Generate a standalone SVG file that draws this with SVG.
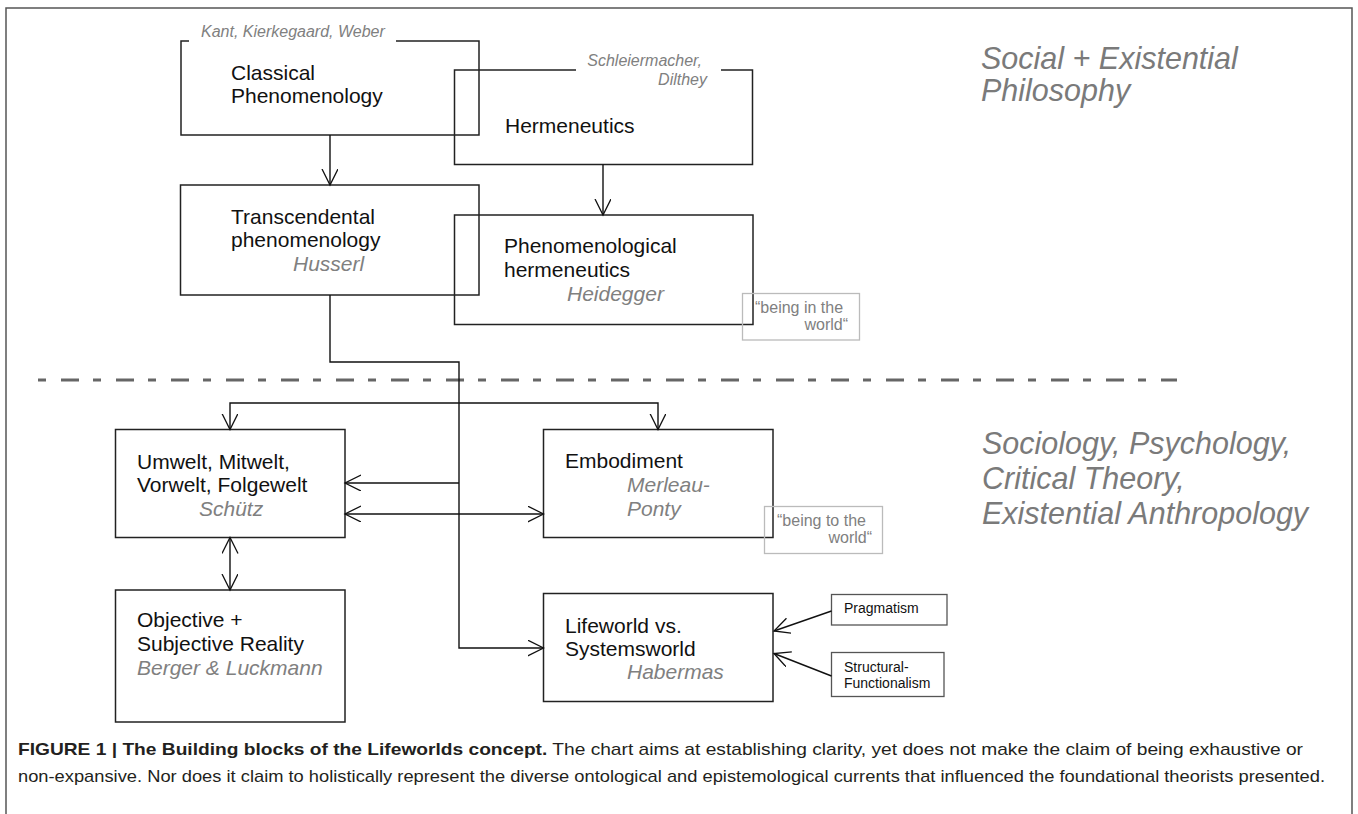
<svg xmlns="http://www.w3.org/2000/svg" width="1358" height="814" viewBox="0 0 1358 814">
<style>
  .box{fill:none;stroke:#222;stroke-width:1.5}
  .note{fill:none;stroke:#bbb;stroke-width:1.3}
  .t{font-family:"Liberation Sans",Arial,sans-serif;font-size:21px;fill:#111}
  .a{font-family:"Liberation Sans",Arial,sans-serif;font-size:21px;font-style:italic;fill:#808080}
  .s{font-family:"Liberation Sans",Arial,sans-serif;font-size:16px;font-style:italic;fill:#808080}
  .q{font-family:"Liberation Sans",Arial,sans-serif;font-size:16px;fill:#808080}
  .sm{font-family:"Liberation Sans",Arial,sans-serif;font-size:14px;fill:#111}
  .h{font-family:"Liberation Sans",Arial,sans-serif;font-size:30.5px;font-style:italic;fill:#7a7a7a}
  .cap{font-family:"Liberation Sans Narrow","Liberation Sans",Arial,sans-serif;font-size:17px;fill:#231f20}
  .c{fill:none;stroke:#111;stroke-width:1.4}
</style>
<defs>
  <marker id="ar" markerUnits="userSpaceOnUse" markerWidth="20" markerHeight="20" refX="16" refY="8" orient="auto-start-reverse">
    <path d="M0,0 L16,8 L0,16" fill="none" stroke="#111" stroke-width="1.3"/>
  </marker>
</defs>
<rect x="0" y="0" width="1358" height="814" fill="#fff"/>
<path id="frame" d="M6,814 V8 H1352 V814" fill="none" stroke="#555" stroke-width="1.5"/>

<g id="classical">
  <path class="box" d="M189,41 H181 V135 H479 V41 H396"/>
  <text class="s" x="201" y="36.5">Kant, Kierkegaard, Weber</text>
  <text class="t" x="231" y="80">Classical</text>
  <text class="t" x="231" y="103">Phenomenology</text>
</g>
<g id="hermeneutics">
  <path class="box" d="M576,70 H454.5 V164.5 H752.5 V70 H721"/>
  <text class="s" x="702" y="66" text-anchor="end">Schleiermacher,</text>
  <text class="s" x="707" y="85" text-anchor="end">Dilthey</text>
  <text class="t" x="505" y="133">Hermeneutics</text>
</g>
<g id="transcendental">
  <rect class="box" x="180.5" y="185" width="298.5" height="110"/>
  <text class="t" x="231" y="224">Transcendental</text>
  <text class="t" x="231" y="247">phenomenology</text>
  <text class="a" x="293" y="271">Husserl</text>
</g>
<g id="phenherm">
  <rect class="box" x="454.5" y="215" width="298.5" height="109.5"/>
  <text class="t" x="504" y="253">Phenomenological</text>
  <text class="t" x="504" y="277">hermeneutics</text>
  <text class="a" x="567" y="301">Heidegger</text>
</g>
<g id="beingin">
  <rect class="note" x="742.5" y="293.5" width="117" height="46.5"/>
  <text class="q" x="755" y="313">“being in the</text>
  <text class="q" x="848" y="330" text-anchor="end">world“</text>
</g>

<line id="divider" x1="38" y1="380" x2="1177" y2="380" stroke="#666" stroke-width="3" stroke-dasharray="8 15 18 14"/>

<g id="schutz">
  <rect class="box" x="115.5" y="429.5" width="229.5" height="108"/>
  <text class="t" x="137" y="469">Umwelt, Mitwelt,</text>
  <text class="t" x="137" y="492">Vorwelt, Folgewelt</text>
  <text class="a" x="199" y="516">Schütz</text>
</g>
<g id="embodiment">
  <rect class="box" x="543.5" y="429.5" width="229.5" height="108"/>
  <text class="t" x="565" y="468">Embodiment</text>
  <text class="a" x="627" y="492">Merleau-</text>
  <text class="a" x="627" y="516">Ponty</text>
</g>
<g id="beingto">
  <rect class="note" x="764.5" y="506.5" width="118" height="47"/>
  <text class="q" x="777" y="526">“being to the</text>
  <text class="q" x="872" y="543" text-anchor="end">world“</text>
</g>
<g id="objective">
  <rect class="box" x="115.5" y="590" width="229.5" height="132"/>
  <text class="t" x="137" y="627">Objective +</text>
  <text class="t" x="137" y="651">Subjective Reality</text>
  <text class="a" x="137" y="675">Berger &amp; Luckmann</text>
</g>
<g id="habermas">
  <rect class="box" x="543.5" y="593.5" width="229.5" height="108"/>
  <text class="t" x="565" y="633">Lifeworld vs.</text>
  <text class="t" x="565" y="656">Systemsworld</text>
  <text class="a" x="627" y="679">Habermas</text>
</g>
<g id="pragmatism">
  <rect x="831.5" y="594.5" width="115.5" height="30.5" fill="none" stroke="#555" stroke-width="1.3"/>
  <text class="sm" x="844" y="613">Pragmatism</text>
</g>
<g id="structural">
  <rect x="831.5" y="652.5" width="112.5" height="44" fill="none" stroke="#555" stroke-width="1.3"/>
  <text class="sm" x="844" y="672">Structural-</text>
  <text class="sm" x="844" y="688">Functionalism</text>
</g>

<g id="titles">
  <text class="h" x="981" y="69">Social + Existential</text>
  <text class="h" x="981" y="101">Philosophy</text>
  <text class="h" x="982" y="454">Sociology, Psychology,</text>
  <text class="h" x="982" y="489">Critical Theory,</text>
  <text class="h" x="982" y="523.5">Existential Anthropology</text>
</g>

<g id="connectors">
  <path class="c" d="M330,135 V185" marker-end="url(#ar)"/>
  <path class="c" d="M603,164.5 V215" marker-end="url(#ar)"/>
  <path class="c" d="M330,295 V362 H459 V648 H543.5" marker-end="url(#ar)"/>
  <path class="c" d="M459,483 H345" marker-end="url(#ar)"/>
  <path class="c" d="M230,429.5 V403 H658 V429.5" marker-start="url(#ar)" marker-end="url(#ar)"/>
  <path class="c" d="M345,514 H543.5" marker-start="url(#ar)" marker-end="url(#ar)"/>
  <path class="c" d="M230,537.5 V590" marker-start="url(#ar)" marker-end="url(#ar)"/>
  <path class="c" d="M831.5,611 L774,631" marker-end="url(#ar)"/>
  <path class="c" d="M831.5,676 L774,653.5" marker-end="url(#ar)"/>
</g>

<g id="caption">
  <text class="cap" x="18" y="755" textLength="1285" lengthAdjust="spacingAndGlyphs"><tspan font-weight="bold">FIGURE 1 | The Building blocks of the Lifeworlds concept.</tspan> The chart aims at establishing clarity, yet does not make the claim of being exhaustive or</text>
  <text class="cap" x="18" y="782" textLength="1307" lengthAdjust="spacingAndGlyphs">non-expansive. Nor does it claim to holistically represent the diverse ontological and epistemological currents that influenced the foundational theorists presented.</text>
</g>
</svg>
